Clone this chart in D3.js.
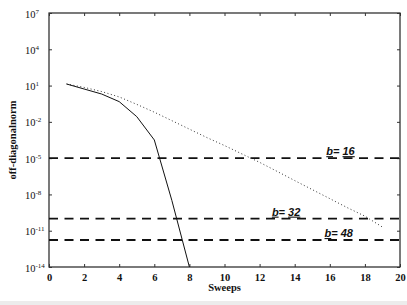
<!DOCTYPE html>
<html><head><meta charset="utf-8">
<script src="https://cdn.jsdelivr.net/npm/d3@7"></script>
<style>
html,body{margin:0;padding:0;background:#fff;}
svg{display:block;}
text{font-family:"Liberation Serif","Times New Roman",serif;fill:#111;}
</style></head>
<body><svg id="c" width="407" height="305"></svg>
<script>
// ---- data ----
const sweepsSolid = [1, 2, 3, 4, 5, 6, 7, 8];
const normSolid = [13.5, 5.2, 2.0, 0.47, 0.027, 3.2e-4, 3.2e-9, 1e-14];
const sweepsDotted = [1,2,3,4,5,6,7,8,9,10,11,12,13,14,15,16,17,18,19];
const normDotted = [13.5, 7.1, 3.2, 1.15, 0.28, 0.063, 0.0126, 2.5e-3, 5e-4, 1.1e-4, 2.2e-5, 4.5e-6, 8e-7, 1.4e-7, 2.5e-8, 4.5e-9, 8e-10, 1.6e-10, 2e-11];
const thresholdLabels = ["16", "32", "48"];
const thresholdValues = [1e-5, 1e-10, 1.7e-12];
const thresholdLabelX = [15.8, 12.7, 15.7];
const xTicks = [0, 2, 4, 6, 8, 10, 12, 14, 16, 18, 20];
const yTickExps = [7, 4, 1, -2, -5, -8, -11, -14];
const xTitle = "Sweeps";
const yTitle = "off-diagonalnorm";

// ---- layout ----
const L = 49, R = 400, T = 13, B = 267;
const svg = d3.select("#c");
const x = d3.scaleLinear().domain([0, 20]).range([L, R]);
const y = d3.scaleLog().domain([1e-14, 1e7]).range([B, T]);

// faint scan strip at bottom
svg.append("rect").attr("x", 0).attr("y", 301).attr("width", 407).attr("height", 4).attr("fill", "#ececec");

svg.append("defs").append("clipPath").attr("id", "clip")
  .append("rect").attr("x", L).attr("y", T).attr("width", R - L).attr("height", B - T);

// frame
svg.append("rect").attr("x", L).attr("y", T).attr("width", R - L).attr("height", B - T)
  .attr("fill", "none").attr("stroke", "#222").attr("stroke-width", 1.2);

// bottom axis
const gx = svg.append("g").attr("transform", `translate(0,${B})`)
  .call(d3.axisBottom(x).tickValues(xTicks).tickSize(-3).tickPadding(7).tickFormat(d3.format("d")));
gx.select(".domain").remove();
gx.selectAll("line").attr("stroke", "#333");
gx.selectAll("text").style("font-size", "10.5px").style("font-weight", "bold").attr("fill", "#111");

// top ticks
const gt = svg.append("g").attr("transform", `translate(0,${T})`)
  .call(d3.axisTop(x).tickValues(xTicks).tickSize(-3).tickFormat(""));
gt.select(".domain").remove();
gt.selectAll("line").attr("stroke", "#333");

// left axis
const yTickVals = yTickExps.map(e => Math.pow(10, e));
const gy = svg.append("g").attr("transform", `translate(${L},0)`)
  .call(d3.axisLeft(y).tickValues(yTickVals).tickSize(-3).tickFormat(""));
gy.select(".domain").remove();
gy.selectAll("line").attr("stroke", "#333");
gy.selectAll(".tick").each(function(d, i) {
  const t = d3.select(this).append("text")
    .attr("x", 25 - L).attr("y", 4).attr("text-anchor", "start")
    .style("font-size", "10.5px").attr("fill", "#111");
  t.append("tspan").text("10");
  t.append("tspan").attr("dy", -4).style("font-size", "7px").text(String(yTickExps[i]).replace("-", "-"));
});

// right ticks
const gr = svg.append("g").attr("transform", `translate(${R},0)`)
  .call(d3.axisRight(y).tickValues(yTickVals).tickSize(-3).tickFormat(""));
gr.select(".domain").remove();
gr.selectAll("line").attr("stroke", "#333");

// threshold dashed lines
const plot = svg.append("g").attr("clip-path", "url(#clip)");
thresholdValues.forEach((v) => {
  plot.append("line")
    .attr("x1", x(0)).attr("x2", x(20))
    .attr("y1", y(v)).attr("y2", y(v))
    .attr("stroke", "#111").attr("stroke-width", 1.8)
    .attr("stroke-dasharray", "9,6.5");
});

// lines
const line = d3.line().x(d => x(d[0])).y(d => y(d[1]));
plot.append("path")
  .datum(sweepsDotted.map((s, i) => [s, normDotted[i]]))
  .attr("d", line).attr("fill", "none")
  .attr("stroke", "#333").attr("stroke-width", 1).attr("stroke-dasharray", "1,2.5");
plot.append("path")
  .datum(sweepsSolid.map((s, i) => [s, normSolid[i]]))
  .attr("d", line).attr("fill", "none")
  .attr("stroke", "#111").attr("stroke-width", 1);

// threshold labels
thresholdLabels.forEach((lab, i) => {
  const t = svg.append("text")
    .attr("x", x(thresholdLabelX[i])).attr("y", y(thresholdValues[i]) - 3)
    .style("font-family", "'Liberation Sans',Arial,sans-serif")
    .style("font-size", "11px").style("font-weight", "bold").style("font-style", "italic");
  t.append("tspan").style("text-decoration", "underline").text("b");
  t.append("tspan").text("= ");
  t.append("tspan").style("text-decoration", i < 2 ? "underline" : "none").text(lab);
});

// axis titles
svg.append("text").attr("x", (L + R) / 2).attr("y", 291).attr("text-anchor", "middle")
  .style("font-size", "10.5px").style("font-weight", "bold").text(xTitle);
svg.append("text").attr("transform", "translate(16,140) rotate(-90)").attr("text-anchor", "middle")
  .style("font-size", "10.5px").style("font-weight", "bold").text(yTitle);
</script></body></html>
